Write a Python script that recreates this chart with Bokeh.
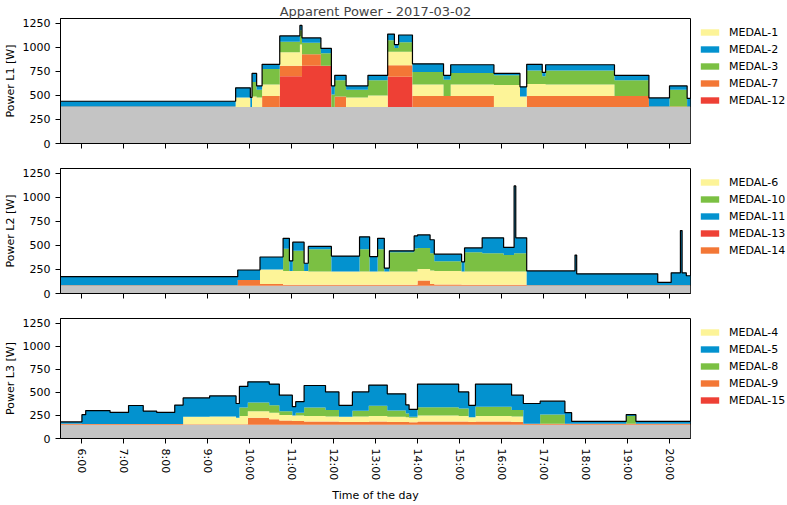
from bokeh.plotting import figure
from bokeh.models import ColumnDataSource, Legend, LegendItem, FixedTicker, Range1d
from bokeh.layouts import column, row
from bokeh.embed import file_html
from bokeh.resources import INLINE

TITLE = "Apparent Power - 2017-03-02"
X_LABEL = "Time of the day"
HOUR_TICKS = [6, 7, 8, 9, 10, 11, 12, 13, 14, 15, 16, 17, 18, 19, 20]
HOUR_LABELS = ["6:00", "7:00", "8:00", "9:00", "10:00", "11:00", "12:00", "13:00",
               "14:00", "15:00", "16:00", "17:00", "18:00", "19:00", "20:00"]
Y_TICKS = [0, 250, 500, 750, 1000, 1250]
X_START, X_END = 5.5, 20.5

# ---------------- Phase L1 (segment start times in hours) ----------------
L1_start = [5.5, 9.67, 10.02, 10.06, 10.17, 10.3, 10.72, 11.2, 11.25, 11.7, 11.95, 12.03,
            12.3, 12.82, 13.29, 13.45, 13.55, 13.88, 14.62, 14.79, 15.82, 16.44, 16.6,
            16.97, 17.05, 18.69, 19.51, 20.0, 20.42]
L1_base = 380
L1_m12 = [0, 0, 0, 0, 0, 0, 320, 320, 430, 430, 0, 0, 0, 0, 315, 315, 315, 0, 0, 0, 0, 0, 0, 0, 0, 0, 0, 0, 0]
L1_m7 = [5, 0, 0, 0, 0, 115, 110, 110, 120, 0, 0, 110, 0, 0, 120, 120, 120, 115, 115, 115, 0, 0, 115, 115, 115, 115, 5, 5, 5]
L1_m1 = [0, 100, 0, 110, 100, 120, 140, 220, 0, 0, 0, 0, 100, 120, 140, 140, 140, 120, 0, 120, 230, 110, 125, 125, 120, 0, 0, 0, 0]
L1_m3 = [0, 0, 0, 150, 80, 160, 110, 150, 120, 130, 130, 170, 80, 160, 120, 40, 100, 130, 170, 120, 100, 0, 140, 80, 145, 165, 0, 175, 0]
L1_m2 = [55, 100, 100, 90, 40, 50, 60, 50, 50, 50, 90, 50, 40, 50, 65, 35, 75, 85, 45, 85, 20, 100, 65, 40, 60, 50, 90, 40, 85]

# ---------------- Phase L2 ----------------
L2_start = [5.5, 9.72, 10.25, 10.8, 10.95, 11.03, 11.3, 11.4, 11.95, 12.62, 12.86, 13.05,
            13.21, 13.33, 13.92, 14.0, 14.3, 14.4, 15.05, 15.12, 15.54, 16.05, 16.3, 16.34,
            16.6, 17.75, 17.79, 19.72, 20.04, 20.26, 20.3, 20.4]
L2_base = 80
L2_m14 = [5, 60, 20, 10, 10, 10, 10, 10, 10, 10, 10, 10, 10, 10, 10, 55, 20, 15, 10, 10, 10, 10, 10, 10, 5, 5, 5, 5, 5, 5, 5, 5]
L2_m13 = [0, 0, 0, 0, 0, 0, 0, 0, 0, 0, 0, 0, 0, 0, 0, 0, 0, 0, 0, 0, 0, 0, 0, 0, 0, 0, 0, 0, 0, 0, 0, 0]
L2_m6 = [0, 0, 150, 145, 145, 145, 145, 140, 140, 140, 140, 140, 140, 140, 140, 120, 140, 140, 140, 140, 140, 140, 140, 140, 0, 0, 0, 0, 0, 0, 0, 0]
L2_m10 = [0, 0, 0, 230, 0, 210, 0, 230, 0, 230, 0, 230, 0, 200, 240, 220, 180, 100, 0, 200, 190, 170, 190, 190, 0, 0, 0, 0, 0, 0, 0, 0]
L2_m11 = [90, 105, 130, 110, 105, 90, 80, 30, 160, 130, 155, 115, 35, 15, 130, 135, 140, 75, 100, 45, 160, 80, 700, 160, 150, 315, 120, 30, 130, 570, 130, 100]

# ---------------- Phase L3 ----------------
L3_start = [5.5, 6.01, 6.1, 6.68, 7.12, 7.47, 7.79, 8.22, 8.42, 9.05, 9.68, 9.76, 9.96, 10.47,
            10.71, 11.02, 11.1, 11.3, 11.81, 12.13, 12.45, 12.84, 13.28, 13.72, 13.8, 14.0,
            14.98, 15.22, 15.38, 16.24, 16.52, 16.92, 17.51, 17.67, 18.97, 19.2]
L3_base = 150
L3_m9 = [10, 8, 8, 8, 8, 8, 8, 8, 5, 5, 5, 5, 75, 60, 45, 40, 40, 35, 35, 30, 30, 35, 30, 30, 25, 35, 35, 30, 35, 30, 10, 10, 10, 10, 10, 10]
L3_m15 = [0, 0, 0, 0, 0, 0, 0, 0, 0, 0, 0, 0, 0, 0, 0, 0, 0, 0, 0, 0, 0, 0, 0, 0, 0, 0, 0, 0, 0, 0, 0, 0, 0, 0, 0, 0]
L3_m4 = [0, 0, 0, 0, 0, 0, 0, 0, 80, 85, 70, 90, 70, 70, 60, 60, 60, 60, 55, 55, 60, 60, 55, 50, 50, 65, 60, 50, 60, 60, 0, 0, 0, 0, 0, 0]
L3_m8 = [0, 0, 0, 0, 0, 0, 0, 0, 0, 0, 0, 90, 95, 80, 40, 0, 30, 90, 70, 0, 60, 110, 70, 40, 10, 90, 80, 0, 100, 70, 0, 100, 0, 0, 85, 0]
L3_m5 = [20, 100, 145, 125, 200, 140, 125, 205, 205, 222, 155, 230, 225, 230, 175, 95, 120, 240, 195, 125, 205, 225, 180, 95, 80, 250, 180, 130, 245, 160, 220, 145, 120, 25, 15, 25]

YELLOW, BLUE, GREEN, ORANGE, RED = "#fdf498", "#0392cf", "#7bc043", "#f37736", "#ee4035"
GRAY = "#c4c4c4"
FONT = "DejaVu Sans"
MAIN_W, LEG_W = 691, 96


def stepped(starts, end, values):
    bounds = list(starts) + [end]
    xs, ys = [], []
    for i, v in enumerate(values):
        xs += [bounds[i], bounds[i + 1]]
        ys += [v, v]
    return xs, ys


def legend_fig(entries, height, top, bottom):
    lf = figure(width=LEG_W, height=height, output_backend="svg", toolbar_location=None,
                x_range=Range1d(0, 1), y_range=Range1d(0, 1),
                x_axis_location=None, y_axis_location=None,
                min_border_left=0, min_border_right=0, min_border_top=top,
                min_border_bottom=bottom)
    lf.grid.visible = False
    lf.outline_line_color = None
    items = []
    for lbl, col in entries:
        # swatch carrier, kept outside the visible ranges
        r = lf.varea(x=[5, 6], y1=[5, 5], y2=[6, 6], fill_color=col)
        items.append(LegendItem(label=lbl, renderers=[r]))
    leg = Legend(items=items, location="top_left", label_text_font_size="11px",
                 label_text_font=FONT, label_text_color="black",
                 glyph_width=23, glyph_height=8, label_standoff=8,
                 spacing=3, label_height=14, padding=0, margin=7,
                 border_line_alpha=0, background_fill_alpha=0)
    lf.add_layout(leg)
    return lf


def panel(ylabel, starts, base, stack, height, top, bottom, title=None, labels=False):
    data = {}
    xs, _ = stepped(starts, X_END, stack[0][1])
    data["x"] = xs
    data["base"] = [base] * len(xs)
    names = ["base"]
    colors = [GRAY]
    total = list(data["base"])
    for name, vals, col in stack:
        _, ys = stepped(starts, X_END, vals)
        data[name] = ys
        names.append(name)
        colors.append(col)
        total = [a + b for a, b in zip(total, ys)]
    data["total"] = total
    src = ColumnDataSource(data)

    p = figure(width=MAIN_W, height=height, output_backend="svg", toolbar_location=None,
               x_range=Range1d(X_START, X_END), y_range=Range1d(0, 1302),
               min_border_left=56, min_border_right=1, min_border_top=top,
               min_border_bottom=bottom)
    p.varea_stack(stackers=names, x="x", color=colors, source=src)
    p.line("x", "total", source=src, color="black", line_width=1.2)

    p.grid.visible = False
    p.outline_line_color = "black"
    p.outline_line_width = 1
    p.background_fill_color = "white"

    p.yaxis.ticker = FixedTicker(ticks=Y_TICKS)
    p.yaxis.axis_label = ylabel
    p.yaxis.axis_label_text_font_style = "normal"
    p.yaxis.axis_label_text_font_size = "11px"
    p.yaxis.axis_label_text_font = FONT
    p.yaxis.axis_label_standoff = 3
    p.yaxis.major_label_text_font_size = "11px"
    p.yaxis.major_label_text_font = FONT
    p.yaxis.major_label_standoff = 5

    p.xaxis.ticker = FixedTicker(ticks=HOUR_TICKS)
    for ax in (p.xaxis[0], p.yaxis[0]):
        ax.major_tick_out = 5
        ax.major_tick_in = 0
        ax.minor_tick_line_color = None
        ax.axis_line_color = "black"
        ax.major_tick_line_color = "black"
        ax.major_label_text_color = "black"
        ax.axis_label_text_color = "black"
    if labels:
        p.xaxis.major_label_overrides = {h: s for h, s in zip(HOUR_TICKS, HOUR_LABELS)}
        p.xaxis.major_label_orientation = "vertical"
        p.xaxis.major_label_text_font_size = "11px"
        p.xaxis.major_label_text_font = FONT
        p.xaxis.major_label_standoff = 5
        p.xaxis.axis_label = X_LABEL
        p.xaxis.axis_label_text_font_style = "normal"
        p.xaxis.axis_label_text_font_size = "11px"
        p.xaxis.axis_label_text_font = FONT
        p.xaxis.axis_label_standoff = 6
    else:
        p.xaxis.major_label_overrides = {h: "" for h in HOUR_TICKS}
        p.xaxis.major_label_text_font_size = "11px"
        p.xaxis.major_label_standoff = 0
    if title:
        p.title.text = title
        p.title.align = "center"
        p.title.text_font_size = "13px"
        p.title.text_font_style = "normal"
        p.title.text_font = FONT
        p.title.standoff = 0
        p.title.offset = 0
    return p


p1 = panel("Power L1 [W]", L1_start, L1_base,
           [("m12", L1_m12, RED), ("m7", L1_m7, ORANGE), ("m1", L1_m1, YELLOW),
            ("m3", L1_m3, GREEN), ("m2", L1_m2, BLUE)],
           160, 18, 17, title=TITLE)
g1 = legend_fig([("MEDAL-1", YELLOW), ("MEDAL-2", BLUE), ("MEDAL-3", GREEN),
                 ("MEDAL-7", ORANGE), ("MEDAL-12", RED)], 160, 18, 17)
p2 = panel("Power L2 [W]", L2_start, L2_base,
           [("m14", L2_m14, ORANGE), ("m13", L2_m13, RED), ("m6", L2_m6, YELLOW),
            ("m10", L2_m10, GREEN), ("m11", L2_m11, BLUE)],
           150, 8, 17)
g2 = legend_fig([("MEDAL-6", YELLOW), ("MEDAL-10", GREEN), ("MEDAL-11", BLUE),
                 ("MEDAL-13", RED), ("MEDAL-14", ORANGE)], 150, 8, 17)
p3 = panel("Power L3 [W]", L3_start, L3_base,
           [("m9", L3_m9, ORANGE), ("m15", L3_m15, RED), ("m4", L3_m4, YELLOW),
            ("m8", L3_m8, GREEN), ("m5", L3_m5, BLUE)],
           195, 8, 62, labels=True)
g3 = legend_fig([("MEDAL-4", YELLOW), ("MEDAL-5", BLUE), ("MEDAL-8", GREEN),
                 ("MEDAL-9", ORANGE), ("MEDAL-15", RED)], 195, 8, 62)

layout = column(row(p1, g1, spacing=0), row(p2, g2, spacing=0), row(p3, g3, spacing=0),
                spacing=0)
open("out.html", "w").write(file_html(layout, INLINE))
